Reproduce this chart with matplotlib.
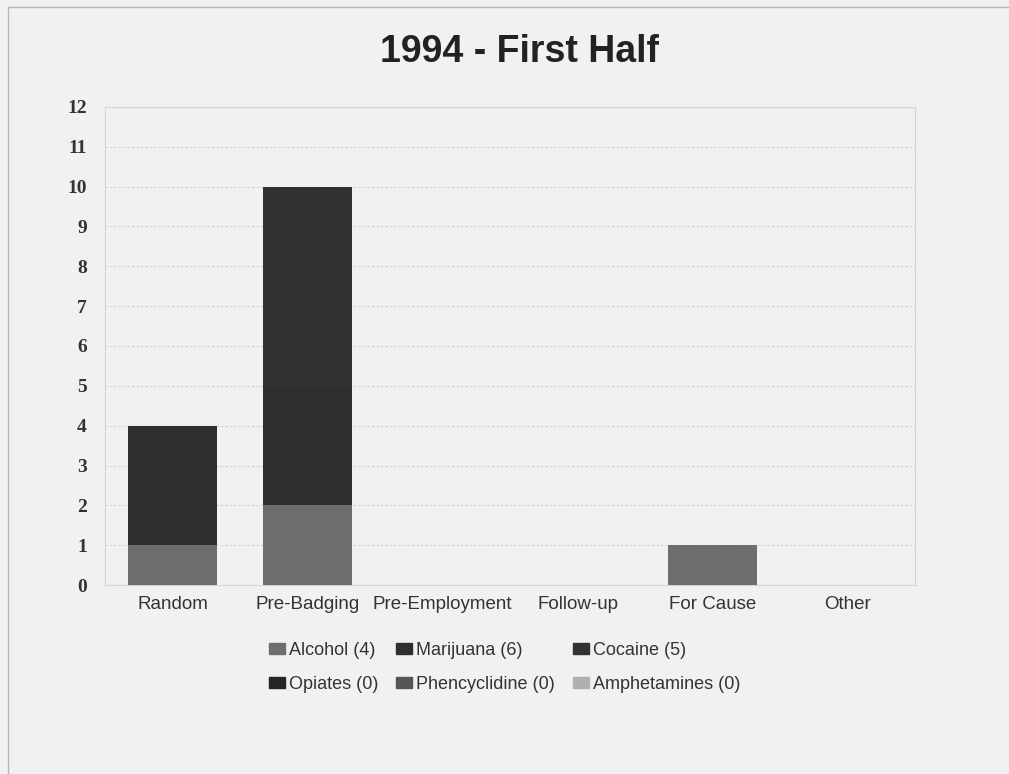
import matplotlib.pyplot as plt
from matplotlib.lines import Line2D
import numpy as np

CATEGORIES = ["Random", "Pre-Badging", "Pre-Employment", "Follow-up", "For Cause", "Other"]

ALCOHOL = [1, 2, 0, 0, 1, 0]
MARIJUANA = [3, 3, 0, 0, 0, 0]
COCAINE = [0, 5, 0, 0, 0, 0]
OPIATES = [0, 0, 0, 0, 0, 0]
PHENCYCLIDINE = [0, 0, 0, 0, 0, 0]
AMPHETAMINES = [0, 0, 0, 0, 0, 0]

SERIES = [
    ("Alcohol (4)",       ALCOHOL,       "#6e6e6e"),
    ("Marijuana (6)",     MARIJUANA,     "#2f2f2f"),
    ("Cocaine (5)",       COCAINE,       "#323232"),
    ("Opiates (0)",       OPIATES,       "#262626"),
    ("Phencyclidine (0)", PHENCYCLIDINE, "#555555"),
    ("Amphetamines (0)",  AMPHETAMINES,  "#b0b0b0"),
]

BG = "#f1f1f1"

fig = plt.figure(figsize=(10.09, 7.74), dpi=100, facecolor=BG)
ax = fig.add_axes([0.104, 0.244, 0.803, 0.618], facecolor=BG)

x = np.arange(len(CATEGORIES))
bottom = np.zeros(len(CATEGORIES))
handles = []
for label, values, color in SERIES:
    ax.bar(x, values, width=0.66, bottom=bottom, color=color, edgecolor="none", zorder=3)
    bottom += np.array(values)
    handles.append(plt.Rectangle((0, 0), 1, 1, color=color, label=label))

ax.set_xlim(-0.5, 5.5)
ax.set_ylim(0, 12)
ax.set_yticks(range(0, 13))
ax.set_yticklabels([str(i) for i in range(0, 13)], fontfamily="Liberation Serif",
                   fontweight="bold", fontsize=14, color="#333333")
ax.set_xticks(x)
ax.set_xticklabels(CATEGORIES, fontfamily="Liberation Sans", fontsize=13.5, color="#333333")
ax.tick_params(axis="both", length=0)
ax.tick_params(axis="y", pad=13)
ax.tick_params(axis="x", pad=8)
ax.grid(axis="y", color="#d0d0d0", linestyle=(0, (2, 2)), linewidth=0.8, zorder=0)
for side in ["top", "right", "bottom", "left"]:
    ax.spines[side].set_color("#d4d4d4")
    ax.spines[side].set_linewidth(0.8)

fig.text(0.515, 0.933, "1994 - First Half", ha="center", va="center",
         fontfamily="Liberation Sans", fontweight="bold", fontsize=27, color="#222222")

# legend fills column by column, reorder so rows read left to right
order = [0, 3, 1, 4, 2, 5]
fig.legend(handles=[handles[i] for i in order], loc="center", bbox_to_anchor=(0.5, 0.138),
           ncol=3, frameon=False, prop={"family": "Liberation Sans", "size": 13},
           handlelength=0.9, handleheight=0.6, handletextpad=0.2,
           columnspacing=1.0, labelspacing=0.95, labelcolor="#333333")

# outer chart frame (top and left edges)
fig.add_artist(Line2D([0.008, 1.0], [0.991, 0.991], color="#b8b8b8", linewidth=1.0))
fig.add_artist(Line2D([0.008, 0.008], [0.0, 0.991], color="#b8b8b8", linewidth=1.0))

fig.savefig("out.png", dpi=100, facecolor=BG)
